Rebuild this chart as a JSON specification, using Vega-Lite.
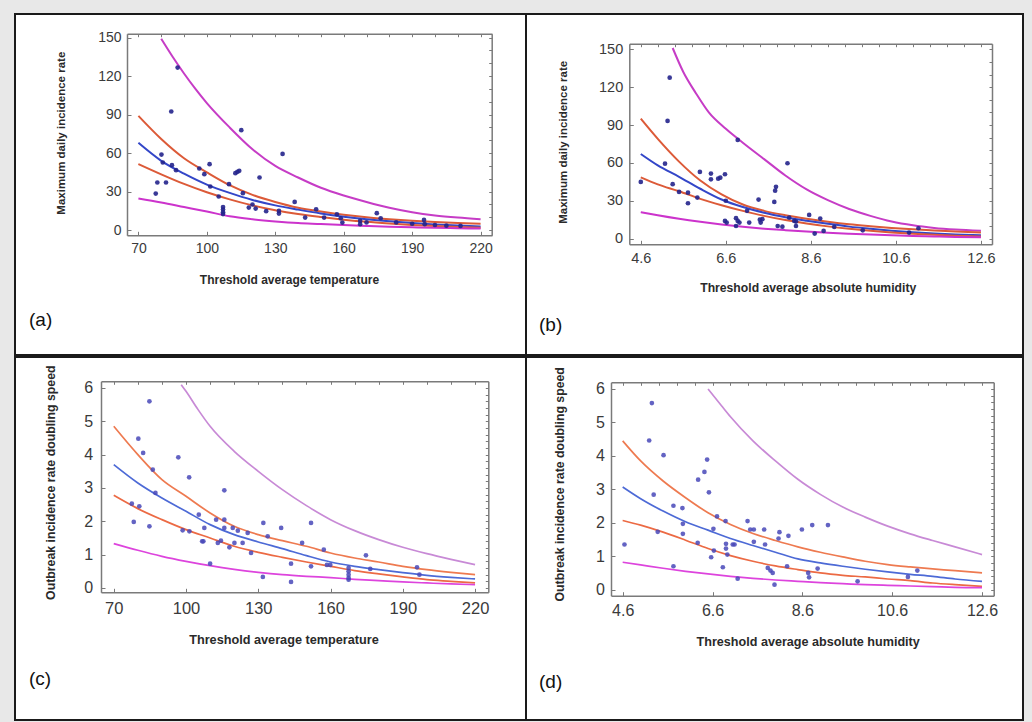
{
"$schema": "https://vega.github.io/schema/vega-lite/v6.json",
"background": "#e8e8e8",
"padding": {"left": 14, "top": 13, "right": 10, "bottom": 5},
"datasets": {
"pts": [
{"p":"a","x":87.2,"y":126.6},{"p":"a","x":84.4,"y":92.4},{"p":"a","x":115.1,"y":77.9},{"p":"a","x":133.2,"y":59.4},{"p":"a","x":80.1,"y":58.9},{"p":"a","x":80.7,"y":52.7},{"p":"a","x":84.7,"y":50.6},{"p":"a","x":86.5,"y":46.7},{"p":"a","x":96.7,"y":48},{"p":"a","x":98.9,"y":43.6},{"p":"a","x":101.2,"y":51.4},{"p":"a","x":78.3,"y":37.1},{"p":"a","x":82.1,"y":37.1},{"p":"a","x":77.6,"y":28.5},{"p":"a","x":101.5,"y":34},{"p":"a","x":105.2,"y":26.2},{"p":"a","x":107.1,"y":18},{"p":"a","x":107.1,"y":16},{"p":"a","x":107.1,"y":14},{"p":"a","x":107.1,"y":12.5},{"p":"a","x":109.7,"y":35.8},{"p":"a","x":112.5,"y":44.4},{"p":"a","x":113.4,"y":45.4},{"p":"a","x":114.2,"y":46.2},{"p":"a","x":115.8,"y":28.8},{"p":"a","x":123.1,"y":41},{"p":"a","x":118.4,"y":17.6},{"p":"a","x":121.4,"y":16.8},{"p":"a","x":120,"y":20},{"p":"a","x":126,"y":14.8},{"p":"a","x":131.6,"y":15},{"p":"a","x":131.6,"y":12.9},{"p":"a","x":138.5,"y":22},{"p":"a","x":143.1,"y":9.8},{"p":"a","x":147.9,"y":16.3},{"p":"a","x":151.4,"y":9.8},{"p":"a","x":157,"y":12.4},{"p":"a","x":158.7,"y":9.3},{"p":"a","x":159.4,"y":5.9},{"p":"a","x":167.2,"y":7.2},{"p":"a","x":167.2,"y":4.7},{"p":"a","x":174.5,"y":13.2},{"p":"a","x":176.2,"y":9.3},{"p":"a","x":195.2,"y":8},{"p":"a","x":195.5,"y":4.7},{"p":"a","x":190,"y":5},{"p":"a","x":200,"y":4},{"p":"a","x":205,"y":3.5},{"p":"a","x":211.2,"y":3.3},{"p":"a","x":183,"y":6},{"p":"a","x":170,"y":6},
{"p":"b","x":5.28,"y":127.5},{"p":"b","x":5.23,"y":93.2},{"p":"b","x":6.88,"y":78.2},{"p":"b","x":8.05,"y":59.7},{"p":"b","x":5.17,"y":59.4},{"p":"b","x":4.6,"y":44.9},{"p":"b","x":5.35,"y":43.1},{"p":"b","x":5.5,"y":37},{"p":"b","x":5.71,"y":36.4},{"p":"b","x":5.71,"y":28},{"p":"b","x":5.93,"y":32.5},{"p":"b","x":5.99,"y":52.8},{"p":"b","x":6.25,"y":51.5},{"p":"b","x":6.25,"y":47},{"p":"b","x":6.42,"y":47.5},{"p":"b","x":6.47,"y":48.3},{"p":"b","x":6.58,"y":51},{"p":"b","x":7.37,"y":30.9},{"p":"b","x":7.78,"y":41},{"p":"b","x":7.76,"y":38},{"p":"b","x":7.74,"y":29.1},{"p":"b","x":6.58,"y":14},{"p":"b","x":6.62,"y":12.7},{"p":"b","x":6.84,"y":16.2},{"p":"b","x":6.88,"y":14},{"p":"b","x":6.92,"y":12.7},{"p":"b","x":6.84,"y":10},{"p":"b","x":7.15,"y":12.7},{"p":"b","x":7.42,"y":12.7},{"p":"b","x":7.46,"y":15.4},{"p":"b","x":7.82,"y":10},{"p":"b","x":7.93,"y":9.5},{"p":"b","x":8.09,"y":16.6},{"p":"b","x":8.21,"y":14},{"p":"b","x":8.25,"y":10},{"p":"b","x":8.56,"y":18.8},{"p":"b","x":8.82,"y":15.9},{"p":"b","x":8.25,"y":13.5},{"p":"b","x":8.69,"y":4},{"p":"b","x":8.9,"y":6.1},{"p":"b","x":9.15,"y":9.3},{"p":"b","x":9.82,"y":6.6},{"p":"b","x":10.91,"y":4.8},{"p":"b","x":11.13,"y":8.2},{"p":"b","x":6.6,"y":30},{"p":"b","x":7.1,"y":22},{"p":"b","x":7.4,"y":15},
{"p":"c","x":84.8,"y":5.6},{"p":"c","x":80.2,"y":4.48},{"p":"c","x":82.2,"y":4.05},{"p":"c","x":86.2,"y":3.55},{"p":"c","x":87.3,"y":2.85},{"p":"c","x":96.8,"y":3.92},{"p":"c","x":101.3,"y":3.32},{"p":"c","x":77.5,"y":2.53},{"p":"c","x":80.6,"y":2.45},{"p":"c","x":78.3,"y":1.98},{"p":"c","x":84.8,"y":1.85},{"p":"c","x":98.6,"y":1.73},{"p":"c","x":101.4,"y":1.7},{"p":"c","x":105.3,"y":2.2},{"p":"c","x":107.6,"y":1.8},{"p":"c","x":106.7,"y":1.4},{"p":"c","x":107.2,"y":1.4},{"p":"c","x":115.9,"y":2.93},{"p":"c","x":112.5,"y":2.05},{"p":"c","x":115.9,"y":2.05},{"p":"c","x":113.2,"y":1.35},{"p":"c","x":114.5,"y":1.42},{"p":"c","x":115.9,"y":1.8},{"p":"c","x":119.4,"y":1.8},{"p":"c","x":121.5,"y":1.72},{"p":"c","x":118,"y":1.22},{"p":"c","x":120.1,"y":1.35},{"p":"c","x":125.6,"y":1.65},{"p":"c","x":127,"y":1.05},{"p":"c","x":110,"y":0.73},{"p":"c","x":132.1,"y":1.95},{"p":"c","x":133.9,"y":1.55},{"p":"c","x":139.5,"y":1.8},{"p":"c","x":131.9,"y":0.33},{"p":"c","x":143.6,"y":0.73},{"p":"c","x":143.6,"y":0.18},{"p":"c","x":148.2,"y":1.35},{"p":"c","x":151.9,"y":1.95},{"p":"c","x":151.9,"y":0.65},{"p":"c","x":157.2,"y":1.15},{"p":"c","x":158.5,"y":0.69},{"p":"c","x":159.9,"y":0.69},{"p":"c","x":174.7,"y":0.98},{"p":"c","x":176.5,"y":0.57},{"p":"c","x":167.5,"y":0.6},{"p":"c","x":167.5,"y":0.5},{"p":"c","x":167.5,"y":0.4},{"p":"c","x":167.5,"y":0.3},{"p":"c","x":167.5,"y":0.25},{"p":"c","x":195.9,"y":0.62},{"p":"c","x":196.9,"y":0.4},{"p":"c","x":123.5,"y":1.35},
{"p":"d","x":5.25,"y":5.58},{"p":"d","x":5.19,"y":4.46},{"p":"d","x":5.51,"y":4.02},{"p":"d","x":5.29,"y":2.84},{"p":"d","x":4.64,"y":1.35},{"p":"d","x":5.38,"y":1.73},{"p":"d","x":5.73,"y":2.51},{"p":"d","x":5.93,"y":2.44},{"p":"d","x":5.94,"y":1.97},{"p":"d","x":5.94,"y":1.67},{"p":"d","x":5.73,"y":0.7},{"p":"d","x":6.28,"y":3.29},{"p":"d","x":6.42,"y":3.52},{"p":"d","x":6.48,"y":3.89},{"p":"d","x":6.52,"y":2.91},{"p":"d","x":6.27,"y":1.4},{"p":"d","x":6.7,"y":2.19},{"p":"d","x":6.89,"y":2.05},{"p":"d","x":6.62,"y":1.82},{"p":"d","x":6.63,"y":1.17},{"p":"d","x":6.57,"y":0.97},{"p":"d","x":6.83,"y":0.67},{"p":"d","x":6.9,"y":1.37},{"p":"d","x":6.9,"y":1.23},{"p":"d","x":6.93,"y":1.05},{"p":"d","x":7.05,"y":1.35},{"p":"d","x":7.09,"y":1.35},{"p":"d","x":7.16,"y":0.33},{"p":"d","x":7.38,"y":2.05},{"p":"d","x":7.44,"y":1.8},{"p":"d","x":7.52,"y":1.8},{"p":"d","x":7.52,"y":1.43},{"p":"d","x":7.75,"y":1.8},{"p":"d","x":7.77,"y":1.35},{"p":"d","x":8.09,"y":1.72},{"p":"d","x":8.07,"y":1.53},{"p":"d","x":8.29,"y":1.61},{"p":"d","x":8.26,"y":0.7},{"p":"d","x":7.83,"y":0.65},{"p":"d","x":7.89,"y":0.57},{"p":"d","x":7.94,"y":0.5},{"p":"d","x":7.98,"y":0.15},{"p":"d","x":8.59,"y":1.8},{"p":"d","x":8.82,"y":1.93},{"p":"d","x":9.17,"y":1.93},{"p":"d","x":8.73,"y":0.5},{"p":"d","x":8.75,"y":0.37},{"p":"d","x":8.94,"y":0.63},{"p":"d","x":9.83,"y":0.25},{"p":"d","x":10.95,"y":0.38},{"p":"d","x":11.16,"y":0.57}
],
"curves": [
{"p":"a","s":"UP","x":80,"y":149},{"p":"a","s":"UP","x":85,"y":135},{"p":"a","s":"UP","x":90,"y":122},{"p":"a","s":"UP","x":95,"y":110},{"p":"a","s":"UP","x":100,"y":99},{"p":"a","s":"UP","x":110,"y":80},{"p":"a","s":"UP","x":120,"y":63},{"p":"a","s":"UP","x":130,"y":50},{"p":"a","s":"UP","x":140,"y":41},{"p":"a","s":"UP","x":150,"y":33},{"p":"a","s":"UP","x":160,"y":27},{"p":"a","s":"UP","x":170,"y":22},{"p":"a","s":"UP","x":180,"y":17.5},{"p":"a","s":"UP","x":190,"y":14},{"p":"a","s":"UP","x":200,"y":11.5},{"p":"a","s":"UP","x":210,"y":9.8},{"p":"a","s":"UP","x":220,"y":8.5},
{"p":"a","s":"UC","x":70,"y":89},{"p":"a","s":"UC","x":80,"y":71},{"p":"a","s":"UC","x":90,"y":56},{"p":"a","s":"UC","x":100,"y":45},{"p":"a","s":"UC","x":110,"y":35},{"p":"a","s":"UC","x":120,"y":27.5},{"p":"a","s":"UC","x":130,"y":22},{"p":"a","s":"UC","x":140,"y":17.5},{"p":"a","s":"UC","x":150,"y":14.5},{"p":"a","s":"UC","x":160,"y":12},{"p":"a","s":"UC","x":170,"y":10},{"p":"a","s":"UC","x":180,"y":8.5},{"p":"a","s":"UC","x":190,"y":7.3},{"p":"a","s":"UC","x":200,"y":6.3},{"p":"a","s":"UC","x":210,"y":5.5},{"p":"a","s":"UC","x":220,"y":5},
{"p":"a","s":"F","x":70,"y":68},{"p":"a","s":"F","x":80,"y":54},{"p":"a","s":"F","x":90,"y":44},{"p":"a","s":"F","x":100,"y":35.5},{"p":"a","s":"F","x":110,"y":29},{"p":"a","s":"F","x":120,"y":23.5},{"p":"a","s":"F","x":130,"y":19.3},{"p":"a","s":"F","x":140,"y":16},{"p":"a","s":"F","x":150,"y":13},{"p":"a","s":"F","x":160,"y":10.5},{"p":"a","s":"F","x":170,"y":8.5},{"p":"a","s":"F","x":180,"y":6.9},{"p":"a","s":"F","x":190,"y":5.6},{"p":"a","s":"F","x":200,"y":4.5},{"p":"a","s":"F","x":210,"y":3.6},{"p":"a","s":"F","x":220,"y":2.9},
{"p":"a","s":"LC","x":70,"y":51.5},{"p":"a","s":"LC","x":80,"y":43.5},{"p":"a","s":"LC","x":90,"y":36},{"p":"a","s":"LC","x":100,"y":29.5},{"p":"a","s":"LC","x":110,"y":24},{"p":"a","s":"LC","x":120,"y":19.3},{"p":"a","s":"LC","x":130,"y":15.5},{"p":"a","s":"LC","x":140,"y":12.5},{"p":"a","s":"LC","x":150,"y":10.2},{"p":"a","s":"LC","x":160,"y":8.2},{"p":"a","s":"LC","x":170,"y":6.5},{"p":"a","s":"LC","x":180,"y":5.2},{"p":"a","s":"LC","x":190,"y":4.1},{"p":"a","s":"LC","x":200,"y":3.2},{"p":"a","s":"LC","x":210,"y":2.4},{"p":"a","s":"LC","x":220,"y":1.8},
{"p":"a","s":"LP","x":70,"y":24.6},{"p":"a","s":"LP","x":80,"y":21.5},{"p":"a","s":"LP","x":90,"y":18},{"p":"a","s":"LP","x":100,"y":14.5},{"p":"a","s":"LP","x":110,"y":10.8},{"p":"a","s":"LP","x":120,"y":8.5},{"p":"a","s":"LP","x":130,"y":6.8},{"p":"a","s":"LP","x":140,"y":5.5},{"p":"a","s":"LP","x":150,"y":4.8},{"p":"a","s":"LP","x":160,"y":4},{"p":"a","s":"LP","x":170,"y":3.3},{"p":"a","s":"LP","x":180,"y":2.7},{"p":"a","s":"LP","x":190,"y":2.2},{"p":"a","s":"LP","x":200,"y":1.8},{"p":"a","s":"LP","x":210,"y":1.5},{"p":"a","s":"LP","x":220,"y":1.2},
{"p":"b","s":"UP","x":5.35,"y":151},{"p":"b","s":"UP","x":5.6,"y":132},{"p":"b","s":"UP","x":5.9,"y":115},{"p":"b","s":"UP","x":6.2,"y":100},{"p":"b","s":"UP","x":6.6,"y":87},{"p":"b","s":"UP","x":7.0,"y":76},{"p":"b","s":"UP","x":7.5,"y":63},{"p":"b","s":"UP","x":8.0,"y":50},{"p":"b","s":"UP","x":8.5,"y":39},{"p":"b","s":"UP","x":9.0,"y":30.5},{"p":"b","s":"UP","x":9.5,"y":23.5},{"p":"b","s":"UP","x":10.0,"y":18},{"p":"b","s":"UP","x":10.5,"y":13.5},{"p":"b","s":"UP","x":11.0,"y":10.5},{"p":"b","s":"UP","x":11.5,"y":8.5},{"p":"b","s":"UP","x":12.0,"y":7.2},{"p":"b","s":"UP","x":12.6,"y":6.2},
{"p":"b","s":"UC","x":4.6,"y":95},{"p":"b","s":"UC","x":5.0,"y":79},{"p":"b","s":"UC","x":5.5,"y":61},{"p":"b","s":"UC","x":6.0,"y":46},{"p":"b","s":"UC","x":6.5,"y":35},{"p":"b","s":"UC","x":7.0,"y":27},{"p":"b","s":"UC","x":7.5,"y":22},{"p":"b","s":"UC","x":8.0,"y":18.5},{"p":"b","s":"UC","x":8.5,"y":15.7},{"p":"b","s":"UC","x":9.0,"y":13.3},{"p":"b","s":"UC","x":9.5,"y":11.3},{"p":"b","s":"UC","x":10.0,"y":9.8},{"p":"b","s":"UC","x":10.5,"y":8.5},{"p":"b","s":"UC","x":11.0,"y":7.4},{"p":"b","s":"UC","x":11.5,"y":6.5},{"p":"b","s":"UC","x":12.0,"y":5.6},{"p":"b","s":"UC","x":12.6,"y":4.8},
{"p":"b","s":"F","x":4.6,"y":67},{"p":"b","s":"F","x":5.0,"y":58},{"p":"b","s":"F","x":5.5,"y":49},{"p":"b","s":"F","x":6.0,"y":39.5},{"p":"b","s":"F","x":6.5,"y":31},{"p":"b","s":"F","x":7.0,"y":25},{"p":"b","s":"F","x":7.5,"y":20.5},{"p":"b","s":"F","x":8.0,"y":17},{"p":"b","s":"F","x":8.5,"y":14.2},{"p":"b","s":"F","x":9.0,"y":11.7},{"p":"b","s":"F","x":9.5,"y":9.5},{"p":"b","s":"F","x":10.0,"y":7.8},{"p":"b","s":"F","x":10.5,"y":6.3},{"p":"b","s":"F","x":11.0,"y":5.1},{"p":"b","s":"F","x":11.5,"y":4.1},{"p":"b","s":"F","x":12.0,"y":3.3},{"p":"b","s":"F","x":12.6,"y":2.6},
{"p":"b","s":"LC","x":4.6,"y":48.5},{"p":"b","s":"LC","x":5.0,"y":43},{"p":"b","s":"LC","x":5.5,"y":37.5},{"p":"b","s":"LC","x":6.0,"y":31.5},{"p":"b","s":"LC","x":6.5,"y":26.5},{"p":"b","s":"LC","x":7.0,"y":22},{"p":"b","s":"LC","x":7.5,"y":18},{"p":"b","s":"LC","x":8.0,"y":14.7},{"p":"b","s":"LC","x":8.5,"y":12},{"p":"b","s":"LC","x":9.0,"y":9.7},{"p":"b","s":"LC","x":9.5,"y":7.8},{"p":"b","s":"LC","x":10.0,"y":6.2},{"p":"b","s":"LC","x":10.5,"y":4.9},{"p":"b","s":"LC","x":11.0,"y":3.9},{"p":"b","s":"LC","x":11.5,"y":3},{"p":"b","s":"LC","x":12.0,"y":2.3},{"p":"b","s":"LC","x":12.6,"y":1.7},
{"p":"b","s":"LP","x":4.6,"y":21},{"p":"b","s":"LP","x":5.0,"y":18.5},{"p":"b","s":"LP","x":5.5,"y":15.7},{"p":"b","s":"LP","x":6.0,"y":13.3},{"p":"b","s":"LP","x":6.5,"y":11.2},{"p":"b","s":"LP","x":7.0,"y":9.4},{"p":"b","s":"LP","x":7.5,"y":7.9},{"p":"b","s":"LP","x":8.0,"y":6.7},{"p":"b","s":"LP","x":8.5,"y":5.6},{"p":"b","s":"LP","x":9.0,"y":4.7},{"p":"b","s":"LP","x":9.5,"y":3.9},{"p":"b","s":"LP","x":10.0,"y":3.2},{"p":"b","s":"LP","x":10.5,"y":2.6},{"p":"b","s":"LP","x":11.0,"y":2.1},{"p":"b","s":"LP","x":11.5,"y":1.7},{"p":"b","s":"LP","x":12.0,"y":1.3},{"p":"b","s":"LP","x":12.6,"y":1},
{"p":"c","s":"UP","x":98,"y":6.1},{"p":"c","s":"UP","x":100,"y":5.9},{"p":"c","s":"UP","x":105,"y":5.35},{"p":"c","s":"UP","x":110,"y":4.85},{"p":"c","s":"UP","x":120,"y":4.1},{"p":"c","s":"UP","x":130,"y":3.5},{"p":"c","s":"UP","x":140,"y":2.95},{"p":"c","s":"UP","x":150,"y":2.47},{"p":"c","s":"UP","x":160,"y":2.05},{"p":"c","s":"UP","x":170,"y":1.72},{"p":"c","s":"UP","x":180,"y":1.45},{"p":"c","s":"UP","x":190,"y":1.22},{"p":"c","s":"UP","x":200,"y":1.03},{"p":"c","s":"UP","x":210,"y":0.86},{"p":"c","s":"UP","x":220,"y":0.7},
{"p":"c","s":"UC","x":70,"y":4.85},{"p":"c","s":"UC","x":80,"y":4.0},{"p":"c","s":"UC","x":90,"y":3.25},{"p":"c","s":"UC","x":100,"y":2.75},{"p":"c","s":"UC","x":110,"y":2.25},{"p":"c","s":"UC","x":120,"y":1.85},{"p":"c","s":"UC","x":130,"y":1.6},{"p":"c","s":"UC","x":140,"y":1.42},{"p":"c","s":"UC","x":150,"y":1.25},{"p":"c","s":"UC","x":160,"y":1.05},{"p":"c","s":"UC","x":170,"y":0.9},{"p":"c","s":"UC","x":180,"y":0.78},{"p":"c","s":"UC","x":190,"y":0.65},{"p":"c","s":"UC","x":200,"y":0.55},{"p":"c","s":"UC","x":210,"y":0.47},{"p":"c","s":"UC","x":220,"y":0.4},
{"p":"c","s":"F","x":70,"y":3.7},{"p":"c","s":"F","x":80,"y":3.15},{"p":"c","s":"F","x":90,"y":2.7},{"p":"c","s":"F","x":100,"y":2.3},{"p":"c","s":"F","x":110,"y":1.9},{"p":"c","s":"F","x":120,"y":1.6},{"p":"c","s":"F","x":130,"y":1.38},{"p":"c","s":"F","x":140,"y":1.18},{"p":"c","s":"F","x":150,"y":0.97},{"p":"c","s":"F","x":160,"y":0.78},{"p":"c","s":"F","x":170,"y":0.65},{"p":"c","s":"F","x":180,"y":0.55},{"p":"c","s":"F","x":190,"y":0.46},{"p":"c","s":"F","x":200,"y":0.38},{"p":"c","s":"F","x":210,"y":0.32},{"p":"c","s":"F","x":220,"y":0.27},
{"p":"c","s":"LC","x":70,"y":2.78},{"p":"c","s":"LC","x":80,"y":2.38},{"p":"c","s":"LC","x":90,"y":2.05},{"p":"c","s":"LC","x":100,"y":1.75},{"p":"c","s":"LC","x":110,"y":1.5},{"p":"c","s":"LC","x":120,"y":1.25},{"p":"c","s":"LC","x":130,"y":1.07},{"p":"c","s":"LC","x":140,"y":0.92},{"p":"c","s":"LC","x":150,"y":0.78},{"p":"c","s":"LC","x":160,"y":0.65},{"p":"c","s":"LC","x":170,"y":0.52},{"p":"c","s":"LC","x":180,"y":0.42},{"p":"c","s":"LC","x":190,"y":0.33},{"p":"c","s":"LC","x":200,"y":0.25},{"p":"c","s":"LC","x":210,"y":0.2},{"p":"c","s":"LC","x":220,"y":0.15},
{"p":"c","s":"LP","x":70,"y":1.33},{"p":"c","s":"LP","x":80,"y":1.13},{"p":"c","s":"LP","x":90,"y":0.95},{"p":"c","s":"LP","x":100,"y":0.8},{"p":"c","s":"LP","x":110,"y":0.67},{"p":"c","s":"LP","x":120,"y":0.56},{"p":"c","s":"LP","x":130,"y":0.47},{"p":"c","s":"LP","x":140,"y":0.4},{"p":"c","s":"LP","x":150,"y":0.35},{"p":"c","s":"LP","x":160,"y":0.31},{"p":"c","s":"LP","x":170,"y":0.26},{"p":"c","s":"LP","x":180,"y":0.22},{"p":"c","s":"LP","x":190,"y":0.18},{"p":"c","s":"LP","x":200,"y":0.15},{"p":"c","s":"LP","x":210,"y":0.12},{"p":"c","s":"LP","x":220,"y":0.1},
{"p":"d","s":"UP","x":6.5,"y":6.0},{"p":"d","s":"UP","x":6.8,"y":5.5},{"p":"d","s":"UP","x":7.0,"y":5.17},{"p":"d","s":"UP","x":7.5,"y":4.45},{"p":"d","s":"UP","x":8.0,"y":3.85},{"p":"d","s":"UP","x":8.5,"y":3.3},{"p":"d","s":"UP","x":9.0,"y":2.85},{"p":"d","s":"UP","x":9.5,"y":2.47},{"p":"d","s":"UP","x":10.0,"y":2.17},{"p":"d","s":"UP","x":10.5,"y":1.9},{"p":"d","s":"UP","x":11.0,"y":1.67},{"p":"d","s":"UP","x":11.5,"y":1.47},{"p":"d","s":"UP","x":12.0,"y":1.28},{"p":"d","s":"UP","x":12.6,"y":1.05},
{"p":"d","s":"UC","x":4.6,"y":4.45},{"p":"d","s":"UC","x":5.0,"y":3.85},{"p":"d","s":"UC","x":5.5,"y":3.25},{"p":"d","s":"UC","x":6.0,"y":2.75},{"p":"d","s":"UC","x":6.5,"y":2.3},{"p":"d","s":"UC","x":7.0,"y":1.95},{"p":"d","s":"UC","x":7.5,"y":1.68},{"p":"d","s":"UC","x":8.0,"y":1.47},{"p":"d","s":"UC","x":8.5,"y":1.28},{"p":"d","s":"UC","x":9.0,"y":1.12},{"p":"d","s":"UC","x":9.5,"y":0.98},{"p":"d","s":"UC","x":10.0,"y":0.85},{"p":"d","s":"UC","x":10.5,"y":0.75},{"p":"d","s":"UC","x":11.0,"y":0.68},{"p":"d","s":"UC","x":11.5,"y":0.62},{"p":"d","s":"UC","x":12.0,"y":0.57},{"p":"d","s":"UC","x":12.6,"y":0.5},
{"p":"d","s":"F","x":4.6,"y":3.07},{"p":"d","s":"F","x":5.0,"y":2.72},{"p":"d","s":"F","x":5.5,"y":2.35},{"p":"d","s":"F","x":6.0,"y":2.03},{"p":"d","s":"F","x":6.5,"y":1.78},{"p":"d","s":"F","x":7.0,"y":1.53},{"p":"d","s":"F","x":7.5,"y":1.32},{"p":"d","s":"F","x":8.0,"y":1.12},{"p":"d","s":"F","x":8.5,"y":0.92},{"p":"d","s":"F","x":9.0,"y":0.8},{"p":"d","s":"F","x":9.5,"y":0.7},{"p":"d","s":"F","x":10.0,"y":0.61},{"p":"d","s":"F","x":10.5,"y":0.53},{"p":"d","s":"F","x":11.0,"y":0.46},{"p":"d","s":"F","x":11.5,"y":0.4},{"p":"d","s":"F","x":12.0,"y":0.32},{"p":"d","s":"F","x":12.6,"y":0.25},
{"p":"d","s":"LC","x":4.6,"y":2.07},{"p":"d","s":"LC","x":5.0,"y":1.93},{"p":"d","s":"LC","x":5.5,"y":1.72},{"p":"d","s":"LC","x":6.0,"y":1.48},{"p":"d","s":"LC","x":6.5,"y":1.23},{"p":"d","s":"LC","x":7.0,"y":1.02},{"p":"d","s":"LC","x":7.5,"y":0.85},{"p":"d","s":"LC","x":8.0,"y":0.71},{"p":"d","s":"LC","x":8.5,"y":0.6},{"p":"d","s":"LC","x":9.0,"y":0.5},{"p":"d","s":"LC","x":9.5,"y":0.43},{"p":"d","s":"LC","x":10.0,"y":0.38},{"p":"d","s":"LC","x":10.5,"y":0.32},{"p":"d","s":"LC","x":11.0,"y":0.27},{"p":"d","s":"LC","x":11.5,"y":0.2},{"p":"d","s":"LC","x":12.0,"y":0.15},{"p":"d","s":"LC","x":12.6,"y":0.1},
{"p":"d","s":"LP","x":4.6,"y":0.82},{"p":"d","s":"LP","x":5.0,"y":0.74},{"p":"d","s":"LP","x":5.5,"y":0.64},{"p":"d","s":"LP","x":6.0,"y":0.55},{"p":"d","s":"LP","x":6.5,"y":0.47},{"p":"d","s":"LP","x":7.0,"y":0.4},{"p":"d","s":"LP","x":7.5,"y":0.34},{"p":"d","s":"LP","x":8.0,"y":0.29},{"p":"d","s":"LP","x":8.5,"y":0.25},{"p":"d","s":"LP","x":9.0,"y":0.21},{"p":"d","s":"LP","x":9.5,"y":0.18},{"p":"d","s":"LP","x":10.0,"y":0.15},{"p":"d","s":"LP","x":10.5,"y":0.13},{"p":"d","s":"LP","x":11.0,"y":0.11},{"p":"d","s":"LP","x":11.5,"y":0.09},{"p":"d","s":"LP","x":12.0,"y":0.07},{"p":"d","s":"LP","x":12.6,"y":0.06}
]
},
"config": {
"view": {"stroke": "#1a1a1a", "strokeWidth": 2, "fill": "white"},
"axis": {"grid": false, "labelFont": "Liberation Sans", "titleFont": "Liberation Sans", "labelFlush": false, "labelOverlap": false, "minExtent": 0, "domainColor": "#7a7a7a", "tickColor": "#7a7a7a", "domainWidth": 1.5, "tickWidth": 1, "labelColor": "#3a3a3a", "titleColor": "#2a2a2a", "titleFontWeight": "bold", "titleBaseline": "middle", "titleAlign": "center"},
"title": {"font": "Liberation Sans", "fontWeight": "normal", "color": "#111111", "fontSize": 19}
},
"spacing": 0,
"resolve": {"scale": {"color": "independent"}},
"vconcat": [
{"hconcat": [
{"width": 511, "height": 341,
 "title": {"text": "(a)", "orient": "bottom", "anchor": "start", "frame": "group", "offset": -44, "dx": 14},
 "resolve": {"axis": {"x": "independent", "y": "independent"}},
 "layer": [
  {"data": {"name": "curves"}, "transform": [{"filter": "datum.p == 'a'"}],
   "mark": {"type": "line", "strokeWidth": 2, "interpolate": "monotone"},
   "encoding": {
    "x": {"field": "x", "type": "quantitative", "scale": {"domain": [65, 225], "range": [112, 477], "nice": false, "zero": false},
          "axis": {"orient": "top", "offset": -19.7, "values": [70,80,90,100,110,120,130,140,150,160,170,180,190,200,210,220], "tickSize": -3, "labels": false, "title": null}},
    "y": {"field": "y", "type": "quantitative", "scale": {"domain": [-4, 153], "range": [221.3, 19.7], "nice": false, "zero": false},
          "axis": {"orient": "right", "offset": -34.3, "values": [0,10,20,30,40,50,60,70,80,90,100,110,120,130,140,150], "tickSize": -3, "labels": false, "title": null}},
    "color": {"field": "s", "type": "nominal", "legend": null, "scale": {"domain": ["UP","UC","F","LC","LP"], "range": ["#c63cc6","#dc5a38","#3346c8","#dc5a38","#cc33cc"]}},
    "detail": {"field": "s"}
   }},
  {"data": {"name": "pts"}, "transform": [{"filter": "datum.p == 'a'"}],
   "mark": {"type": "circle", "size": 22, "color": "#23238c", "opacity": 0.9},
   "encoding": {
    "x": {"field": "x", "type": "quantitative", "scale": {"domain": [65, 225], "range": [112, 477], "nice": false, "zero": false},
          "axis": {"orient": "bottom", "offset": -119.7, "values": [70,100,130,160,190,220], "tickSize": -4, "labelPadding": 10.3, "labelFontSize": 14, "title": "Threshold average temperature", "titleFontSize": 12, "titleX": 274, "titleY": 43.7}},
    "y": {"field": "y", "type": "quantitative", "scale": {"domain": [-4, 153], "range": [221.3, 19.7], "nice": false, "zero": false},
          "axis": {"orient": "left", "offset": -112, "values": [0,30,60,90,120,150], "tickSize": -4, "labelPadding": 10, "labelFontSize": 14, "title": "Maximum daily incidence rate", "titleFontSize": 11.5, "titleAngle": -90, "titleX": -66, "titleY": 118.7}}
   }}
 ]},
{"width": 497, "height": 341,
 "title": {"text": "(b)", "orient": "bottom", "anchor": "start", "frame": "group", "offset": -39, "dx": 13},
 "resolve": {"axis": {"x": "independent", "y": "independent"}},
 "layer": [
  {"data": {"name": "curves"}, "transform": [{"filter": "datum.p == 'b'"}],
   "mark": {"type": "line", "strokeWidth": 2, "interpolate": "monotone"},
   "encoding": {
    "x": {"field": "x", "type": "quantitative", "scale": {"domain": [4.33, 12.86], "range": [103.3, 466], "nice": false, "zero": false},
          "axis": {"orient": "top", "offset": -29.7, "values": [4.6,5.0,5.4,5.8,6.2,6.6,7.0,7.4,7.8,8.2,8.6,9.0,9.4,9.8,10.2,10.6,11.0,11.4,11.8,12.2,12.6], "tickSize": -3, "labels": false, "title": null}},
    "y": {"field": "y", "type": "quantitative", "scale": {"domain": [-4.5, 154.4], "range": [230.3, 29.7], "nice": false, "zero": false},
          "axis": {"orient": "right", "offset": -31, "values": [0,10,20,30,40,50,60,70,80,90,100,110,120,130,140,150], "tickSize": -3, "labels": false, "title": null}},
    "color": {"field": "s", "type": "nominal", "legend": null, "scale": {"domain": ["UP","UC","F","LC","LP"], "range": ["#c63cc6","#dc5a38","#3346c8","#dc5a38","#cc33cc"]}},
    "detail": {"field": "s"}
   }},
  {"data": {"name": "pts"}, "transform": [{"filter": "datum.p == 'b'"}],
   "mark": {"type": "circle", "size": 22, "color": "#23238c", "opacity": 0.9},
   "encoding": {
    "x": {"field": "x", "type": "quantitative", "scale": {"domain": [4.33, 12.86], "range": [103.3, 466], "nice": false, "zero": false},
          "axis": {"orient": "bottom", "offset": -110.7, "values": [4.6,6.6,8.6,10.6,12.6], "format": ".1f", "tickSize": -4, "labelPadding": 11, "labelFontSize": 14.5, "title": "Threshold average absolute humidity", "titleFontSize": 12.2, "titleX": 281.7, "titleY": 43.4}},
    "y": {"field": "y", "type": "quantitative", "scale": {"domain": [-4.5, 154.4], "range": [230.3, 29.7], "nice": false, "zero": false},
          "axis": {"orient": "left", "offset": -103.3, "values": [0,30,60,90,120,150], "tickSize": -4, "labelPadding": 10.6, "labelFontSize": 14.5, "title": "Maximum daily incidence rate", "titleFontSize": 11.5, "titleAngle": -90, "titleX": -65.6, "titleY": 127.8}}
   }}
 ]}
], "spacing": 0, "bounds": "flush", "resolve": {"scale": {"color": "independent"}}},
{"hconcat": [
{"width": 511, "height": 363,
 "title": {"text": "(c)", "orient": "bottom", "anchor": "start", "frame": "group", "offset": -50, "dx": 14},
 "resolve": {"axis": {"x": "independent", "y": "independent"}},
 "layer": [
  {"data": {"name": "curves"}, "transform": [{"filter": "datum.p == 'c'"}],
   "mark": {"type": "line", "strokeWidth": 1.7, "interpolate": "monotone"},
   "encoding": {
    "x": {"field": "x", "type": "quantitative", "scale": {"domain": [64.7, 225.5], "range": [86, 473.3], "nice": false, "zero": false},
          "axis": {"orient": "top", "offset": -24.3, "values": [70,80,90,100,110,120,130,140,150,160,170,180,190,200,210,220], "tickSize": -3, "labels": false, "title": null}},
    "y": {"field": "y", "type": "quantitative", "scale": {"domain": [-0.13, 6.2], "range": [235.3, 24.3], "nice": false, "zero": false},
          "axis": {"orient": "right", "offset": -37.7, "values": [0,0.2,0.4,0.6,0.8,1,1.2,1.4,1.6,1.8,2,2.2,2.4,2.6,2.8,3,3.2,3.4,3.6,3.8,4,4.2,4.4,4.6,4.8,5,5.2,5.4,5.6,5.8,6], "tickSize": -3, "labels": false, "title": null}},
    "color": {"field": "s", "type": "nominal", "legend": null, "scale": {"domain": ["UP","UC","F","LC","LP"], "range": ["#c88ad6","#ee7a50","#4d6ad6","#ec6a44","#dd44dd"]}},
    "detail": {"field": "s"}
   }},
  {"data": {"name": "pts"}, "transform": [{"filter": "datum.p == 'c'"}],
   "mark": {"type": "circle", "size": 22, "color": "#4848b8", "opacity": 0.85},
   "encoding": {
    "x": {"field": "x", "type": "quantitative", "scale": {"domain": [64.7, 225.5], "range": [86, 473.3], "nice": false, "zero": false},
          "axis": {"orient": "bottom", "offset": -127.7, "values": [70,100,130,160,190,220], "tickSize": -4, "labelPadding": 12.4, "labelFontSize": 16.5, "title": "Threshold average temperature", "titleFontSize": 12.7, "titleX": 268.5, "titleY": 47.4}},
    "y": {"field": "y", "type": "quantitative", "scale": {"domain": [-0.13, 6.2], "range": [235.3, 24.3], "nice": false, "zero": false},
          "axis": {"orient": "left", "offset": -86, "values": [0,1,2,3,4,5,6], "tickSize": -4, "labelPadding": 12.3, "labelFontSize": 16, "title": "Outbreak incidence rate doubling speed", "titleFontSize": 12.3, "titleAngle": -90, "titleX": -51, "titleY": 125.2}}
   }}
 ]},
{"width": 497, "height": 363,
 "title": {"text": "(d)", "orient": "bottom", "anchor": "start", "frame": "group", "offset": -47, "dx": 13},
 "resolve": {"axis": {"x": "independent", "y": "independent"}},
 "layer": [
  {"data": {"name": "curves"}, "transform": [{"filter": "datum.p == 'd'"}],
   "mark": {"type": "line", "strokeWidth": 1.7, "interpolate": "monotone"},
   "encoding": {
    "x": {"field": "x", "type": "quantitative", "scale": {"domain": [4.34, 12.86], "range": [85, 467.7], "nice": false, "zero": false},
          "axis": {"orient": "top", "offset": -25.3, "values": [4.6,5.0,5.4,5.8,6.2,6.6,7.0,7.4,7.8,8.2,8.6,9.0,9.4,9.8,10.2,10.6,11.0,11.4,11.8,12.2,12.6], "tickSize": -3, "labels": false, "title": null}},
    "y": {"field": "y", "type": "quantitative", "scale": {"domain": [-0.18, 6.2], "range": [238.7, 25.3], "nice": false, "zero": false},
          "axis": {"orient": "right", "offset": -29.3, "values": [0,0.2,0.4,0.6,0.8,1,1.2,1.4,1.6,1.8,2,2.2,2.4,2.6,2.8,3,3.2,3.4,3.6,3.8,4,4.2,4.4,4.6,4.8,5,5.2,5.4,5.6,5.8,6], "tickSize": -3, "labels": false, "title": null}},
    "color": {"field": "s", "type": "nominal", "legend": null, "scale": {"domain": ["UP","UC","F","LC","LP"], "range": ["#c88ad6","#ee7a50","#4d6ad6","#ec6a44","#dd44dd"]}},
    "detail": {"field": "s"}
   }},
  {"data": {"name": "pts"}, "transform": [{"filter": "datum.p == 'd'"}],
   "mark": {"type": "circle", "size": 22, "color": "#4848b8", "opacity": 0.85},
   "encoding": {
    "x": {"field": "x", "type": "quantitative", "scale": {"domain": [4.34, 12.86], "range": [85, 467.7], "nice": false, "zero": false},
          "axis": {"orient": "bottom", "offset": -124.3, "values": [4.6,6.6,8.6,10.6,12.6], "format": ".1f", "tickSize": -4, "labelPadding": 10.9, "labelFontSize": 16, "title": "Threshold average absolute humidity", "titleFontSize": 12.6, "titleX": 281.7, "titleY": 45.6}},
    "y": {"field": "y", "type": "quantitative", "scale": {"domain": [-0.18, 6.2], "range": [238.7, 25.3], "nice": false, "zero": false},
          "axis": {"orient": "left", "offset": -85, "values": [0,1,2,3,4,5,6], "tickSize": -4, "labelPadding": 10.7, "labelFontSize": 16, "title": "Outbreak incidence rate doubling speed", "titleFontSize": 12.3, "titleAngle": -90, "titleX": -51.7, "titleY": 126.8}}
   }}
 ]}
], "spacing": 0, "bounds": "flush", "resolve": {"scale": {"color": "independent"}}}
]
}
